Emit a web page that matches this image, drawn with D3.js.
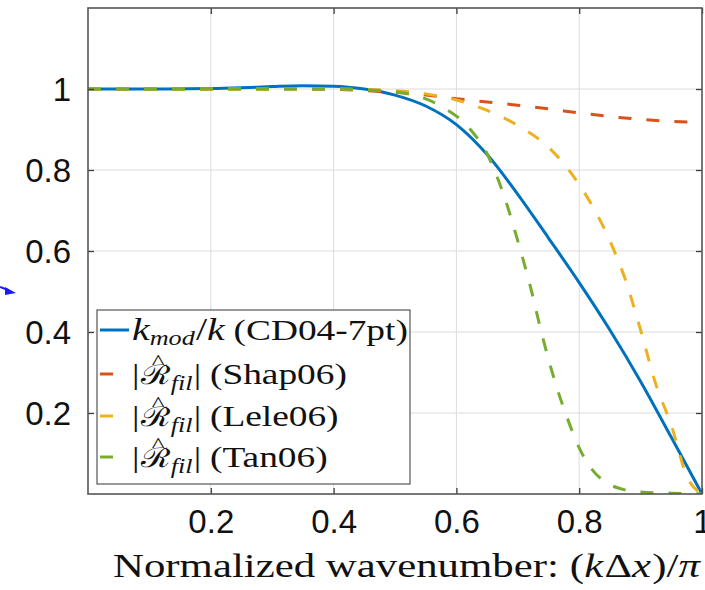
<!DOCTYPE html>
<html>
<head>
<meta charset="utf-8">
<script src="https://cdn.jsdelivr.net/npm/d3@7/dist/d3.min.js"></script>
<style>
  html, body { margin: 0; padding: 0; background: #fff; }
  svg { display: block; }
</style>
</head>
<body>
<svg id="chart" width="705" height="590"></svg>
<script>
// Normalized wavenumber samples and responses for each scheme
const cdX   = [0, 0.1, 0.2, 0.25, 0.3, 0.35, 0.4, 0.45, 0.5, 0.55, 0.6, 0.65, 0.7, 0.75, 0.8, 0.85, 0.9, 0.95, 1.0];
const cdY   = [1, 1, 1.001, 1.003, 1.006, 1.008, 1.007, 1.0, 0.985, 0.958, 0.912, 0.838, 0.74, 0.632, 0.522, 0.405, 0.278, 0.14, 0];

const shapX = [0, 0.3, 0.4, 0.45, 0.5, 0.55, 0.6, 0.65, 0.7, 0.75, 0.8, 0.85, 0.9, 0.95, 1.0];
const shapY = [1, 1, 0.999, 0.996, 0.992, 0.985, 0.976, 0.968, 0.96, 0.951, 0.941, 0.932, 0.925, 0.92, 0.918];

const leleX = [0, 0.3, 0.4, 0.45, 0.5, 0.55, 0.6, 0.65, 0.7, 0.75, 0.8, 0.85, 0.875, 0.9, 0.925, 0.95, 0.975, 1.0];
const leleY = [1, 1, 1, 0.999, 0.996, 0.988, 0.973, 0.947, 0.91, 0.856, 0.764, 0.625, 0.53, 0.405, 0.27, 0.17, 0.045, 0];

const tanX  = [0, 0.3, 0.4, 0.45, 0.5, 0.54, 0.58, 0.62, 0.65, 0.68, 0.7, 0.72, 0.74, 0.76, 0.78, 0.8, 0.82, 0.84, 0.87, 0.9, 0.95, 1.0];
const tanY  = [1, 1, 1, 0.998, 0.993, 0.981, 0.953, 0.905, 0.84, 0.725, 0.625, 0.515, 0.39, 0.28, 0.19, 0.114, 0.062, 0.032, 0.012, 0.005, 0.002, 0];

const xTicks = [0.2, 0.4, 0.6, 0.8, 1];
const yTicks = [0.2, 0.4, 0.6, 0.8, 1];
const xTickLabels = ["0.2", "0.4", "0.6", "0.8", "1"];
const yTickLabels = ["0.2", "0.4", "0.6", "0.8", "1"];

const seriesNames = ["CD04-7pt", "Shap06", "Lele06", "Tan06"];
const seriesColors = ["#0072BD", "#D95319", "#EDB120", "#77AC30"];

const series = [
  { name: seriesNames[0], xs: cdX,   ys: cdY,   color: seriesColors[0], dashed: false },
  { name: seriesNames[1], xs: shapX, ys: shapY, color: seriesColors[1], dashed: true },
  { name: seriesNames[2], xs: leleX, ys: leleY, color: seriesColors[2], dashed: true },
  { name: seriesNames[3], xs: tanX,  ys: tanY,  color: seriesColors[3], dashed: true }
];

const svg = d3.select("#chart");
const pLeft = 88, pRight = 702, pTop = 8, pBottom = 494;

const x = d3.scaleLinear().domain([0, 1]).range([pLeft, pRight]);
const y = d3.scaleLinear().domain([0, 1.2]).range([pBottom, pTop]);

const DASH = "13,15";
const LW = 3;

// grid
const grid = svg.append("g").attr("stroke", "#dcdcdc").attr("stroke-width", 1);
grid.selectAll(".gx").data(xTicks.filter(d => d < 1)).join("line")
  .attr("x1", d => x(d)).attr("x2", d => x(d))
  .attr("y1", pTop).attr("y2", pBottom);
grid.selectAll(".gy").data(yTicks).join("line")
  .attr("x1", pLeft).attr("x2", pRight)
  .attr("y1", d => y(d)).attr("y2", d => y(d));

// clip region for data
svg.append("clipPath").attr("id", "plotClip")
  .append("rect").attr("x", pLeft).attr("y", pTop).attr("width", pRight - pLeft).attr("height", pBottom - pTop);

const line = d3.line().x(d => x(d[0])).y(d => y(d[1])).curve(d3.curveMonotoneX);

const plot = svg.append("g").attr("clip-path", "url(#plotClip)");
series.forEach(s => {
  plot.append("path")
    .datum(s.xs.map((v, i) => [v, s.ys[i]]))
    .attr("d", line)
    .attr("fill", "none")
    .attr("stroke", s.color)
    .attr("stroke-width", LW)
    .attr("stroke-dasharray", s.dashed ? DASH : null)
    .attr("stroke-linejoin", "round");
});

// axes (ticks inside, mirrored on all sides)
const TL = 6;
const axisColor = "#3c3c3c";
const fmtX = (d, i) => xTickLabels[i];
const fmtY = (d, i) => yTickLabels[i];

const gxB = svg.append("g").attr("transform", `translate(0,${pBottom})`)
  .call(d3.axisBottom(x).tickValues(xTicks).tickFormat(fmtX).tickSizeInner(-TL).tickSizeOuter(0).tickPadding(16));
const gxT = svg.append("g").attr("transform", `translate(0,${pTop})`)
  .call(d3.axisTop(x).tickValues(xTicks).tickFormat("").tickSizeInner(-TL).tickSizeOuter(0));
const gyL = svg.append("g").attr("transform", `translate(${pLeft},0)`)
  .call(d3.axisLeft(y).tickValues(yTicks).tickFormat(fmtY).tickSizeInner(-TL).tickSizeOuter(0).tickPadding(17));
const gyR = svg.append("g").attr("transform", `translate(${pRight},0)`)
  .call(d3.axisRight(y).tickValues(yTicks).tickFormat("").tickSizeInner(-TL).tickSizeOuter(0));

[gxB, gxT, gyL, gyR].forEach(g => {
  g.select(".domain").remove();
  g.selectAll(".tick line").attr("stroke", axisColor).attr("stroke-width", 1.3);
  g.selectAll("text")
    .attr("fill", "#111")
    .style("font-family", "'Liberation Sans', Arial, Helvetica, sans-serif")
    .style("font-size", "33px");
});
gxB.selectAll("text").attr("dy", "0.71em");
gyL.selectAll("text").attr("dy", "0.36em");

// frame
svg.append("rect")
  .attr("x", pLeft).attr("y", pTop)
  .attr("width", pRight - pLeft).attr("height", pBottom - pTop)
  .attr("fill", "none").attr("stroke", "#555").attr("stroke-width", 1.6);

// helper: lay out a sequence of styled text runs, returns total width.
// A run flagged "over" is centred above the previous run without advancing.
function runs(g, x0, baseline, parts, baseStyle) {
  let cx = x0;
  let prev = null;
  parts.forEach(p => {
    const t = g.append("text")
      .attr("y", baseline + (p.dy || 0))
      .attr("fill", "#111")
      .style("font-family", p.family || baseStyle.family)
      .style("font-size", (p.size || baseStyle.size) + "px")
      .style("font-style", p.italic ? "italic" : "normal")
      .text(p.t);
    const w = t.node().getComputedTextLength();
    if (p.over && prev) {
      t.attr("x", prev.x + prev.w / 2 - w / 2 + (p.shift || 0));
    } else {
      t.attr("x", cx);
      prev = { x: cx, w: w };
      cx += w + (p.gap || 0);
    }
  });
  return cx - x0;
}

// x axis title
const titleG = svg.append("g");
const titleStyle = { family: "'Liberation Serif', 'Times New Roman', serif", size: 34 };
const titleW = runs(titleG, 0, 0, [
  { t: "Normalized wavenumber:  (" },
  { t: "k", italic: true, gap: 1 },
  { t: "Δ" },
  { t: "x", italic: true, gap: 1 },
  { t: ")/" },
  { t: "π", italic: true }
], titleStyle);
const titleLeft = 113, titleRight = 700;
titleG.attr("transform", `translate(${titleLeft},577) scale(${(titleRight - titleLeft) / titleW},1)`);

// legend
const legX = 97, legY = 310, legW = 313, legH = 174;
const legend = svg.append("g");
legend.append("rect")
  .attr("x", legX).attr("y", legY).attr("width", legW).attr("height", legH)
  .attr("fill", "#fff").attr("stroke", "#555").attr("stroke-width", 1.2);

const rowY = [330, 374, 416, 457];
const legStyle = { family: "'Liberation Serif', 'Times New Roman', serif", size: 30 };
const textLeft = 132;
let legScale = 1;
series.forEach((s, i) => {
  legend.append("line")
    .attr("x1", 100).attr("x2", i === 0 ? 129 : 127)
    .attr("y1", rowY[i]).attr("y2", rowY[i])
    .attr("stroke", s.color).attr("stroke-width", LW)
    .attr("stroke-dasharray", s.dashed ? DASH : null);
  const row = legend.append("g");
  const baseline = 10;
  let w;
  if (i === 0) {
    w = runs(row, 0, baseline, [
      { t: "k", italic: true, size: 32 },
      { t: "mod", italic: true, size: 21, dy: 5, gap: 1 },
      { t: "/", size: 32 },
      { t: "k", italic: true, size: 32, gap: 7 },
      { t: "(" + s.name + ")" }
    ], legStyle);
    legScale = 276 / w;
  } else {
    w = runs(row, 0, baseline, [
      { t: "|", gap: 1 },
      { t: "ℛ", family: "'DejaVu Serif', serif", size: 27 },
      { t: "^", over: true, dy: -15, size: 22, shift: 2 },
      { t: "fil", italic: true, size: 21, dy: 6, gap: 1 },
      { t: "|", gap: 7 },
      { t: "(" + s.name + ")" }
    ], legStyle);
  }
  row.attr("transform", `translate(${textLeft},${rowY[i]}) scale(${legScale},1)`);
});

// small pointer mark at the left margin
svg.append("path")
  .attr("d", "M0,287 L8,290")
  .attr("stroke", "#1a1aff").attr("stroke-width", 2).attr("fill", "none");
svg.append("path")
  .attr("d", "M5,287 L16,293 L5,295 Z")
  .attr("fill", "#1a1aff");
</script>
</body>
</html>
